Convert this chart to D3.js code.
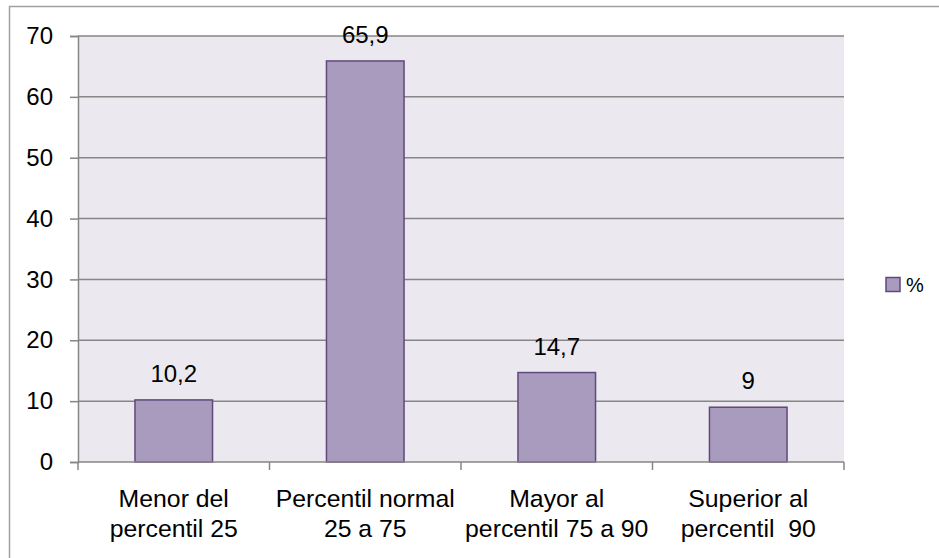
<!DOCTYPE html>
<html><head><meta charset="utf-8">
<script src="https://cdn.jsdelivr.net/npm/d3@7"></script>
<style>
html,body{margin:0;padding:0;background:#fff;}
svg{display:block;font-family:"Liberation Sans",Arial,sans-serif;}
</style></head>
<body>
<svg id="chart" width="939" height="558"></svg>
<script>
const categories = [["Menor del","percentil 25"],["Percentil normal","25 a 75"],["Mayor al","percentil 75 a 90"],["Superior al","percentil  90"]];
const values = [10.2, 65.9, 14.7, 9];
const valueLabels = ["10,2","65,9","14,7","9"];
const yTicks = [0,10,20,30,40,50,60,70];
const seriesName = "%";

const svg = d3.select("#chart");
const L = 78, R = 844, T = 36, B = 462;
const fs = 24;
const fsCat = 24.8;

// outer border (top and left visible)
svg.append("path").attr("d","M9.5,558 L9.5,6.5 L939,6.5")
  .attr("fill","none").attr("stroke","#a0a0a0").attr("stroke-width",1.5);

const x = d3.scaleBand().domain(d3.range(categories.length)).range([L,R]).padding(0);
const y = d3.scaleLinear().domain([0,70]).range([B,T]);

svg.append("rect").attr("x",L).attr("y",T).attr("width",R-L).attr("height",B-T).attr("fill","#ebe8ef");

// gridlines
svg.append("g").selectAll("line").data(yTicks.filter(d=>d>0)).join("line")
  .attr("x1",L).attr("x2",R).attr("y1",d=>y(d)).attr("y2",d=>y(d))
  .attr("stroke","#868686").attr("stroke-width",1.5);

// y axis
const yAxis = svg.append("g").attr("transform",`translate(${L},0)`)
  .call(d3.axisLeft(y).tickValues(yTicks).tickSize(8).tickPadding(17).tickFormat(d=>d));
yAxis.attr("font-size",fs).attr("font-family","Liberation Sans, Arial, sans-serif");
yAxis.select(".domain").attr("stroke","#868686").attr("stroke-width",1.5);
yAxis.selectAll(".tick line").attr("stroke","#868686").attr("stroke-width",1.5);
yAxis.selectAll("text").attr("font-size",fs).attr("fill","#000");

// bars
const bw = x.bandwidth()*0.405;
svg.append("g").selectAll("rect").data(values).join("rect")
  .attr("x",(d,i)=>x(i)+x.bandwidth()/2-bw/2)
  .attr("y",d=>y(d))
  .attr("width",bw)
  .attr("height",d=>B-y(d))
  .attr("fill","#a99bbe").attr("stroke","#60497a").attr("stroke-width",1.5);

// x axis
const xAxisG = svg.append("g");
xAxisG.append("line").attr("x1",L).attr("x2",R).attr("y1",B).attr("y2",B)
  .attr("stroke","#868686").attr("stroke-width",1.5);
const bounds = d3.range(categories.length+1).map(i=> i<categories.length ? x(i) : x(i-1)+x.bandwidth());
xAxisG.selectAll("line.tk").data(bounds).join("line").attr("class","tk")
  .attr("x1",d=>d).attr("x2",d=>d).attr("y1",B).attr("y2",B+8)
  .attr("stroke","#868686").attr("stroke-width",1.5);

// category labels
const cl = svg.append("g").selectAll("text").data(categories).join("text")
  .attr("text-anchor","middle").attr("font-size",fsCat).attr("fill","#000")
  .attr("x",(d,i)=>x(i)+x.bandwidth()/2);
cl.selectAll("tspan").data(d=>d).join("tspan")
  .attr("x",function(){return this.parentNode.getAttribute("x");})
  .attr("y",(d,j)=>507+j*30).text(d=>d).style("white-space","pre");

// value labels
svg.append("g").selectAll("text").data(values).join("text")
  .attr("text-anchor","middle").attr("font-size",fs).attr("fill","#000")
  .attr("x",(d,i)=>x(i)+x.bandwidth()/2)
  .attr("y",d=>y(d)-18)
  .text((d,i)=>valueLabels[i]);

// legend
svg.append("rect").attr("x",886).attr("y",277.5).attr("width",14).attr("height",14)
  .attr("fill","#a99bbe").attr("stroke","#60497a").attr("stroke-width",1.5);
svg.append("text").attr("x",906).attr("y",292).attr("font-size",20).attr("fill","#000").text(seriesName);
</script>
</body></html>
